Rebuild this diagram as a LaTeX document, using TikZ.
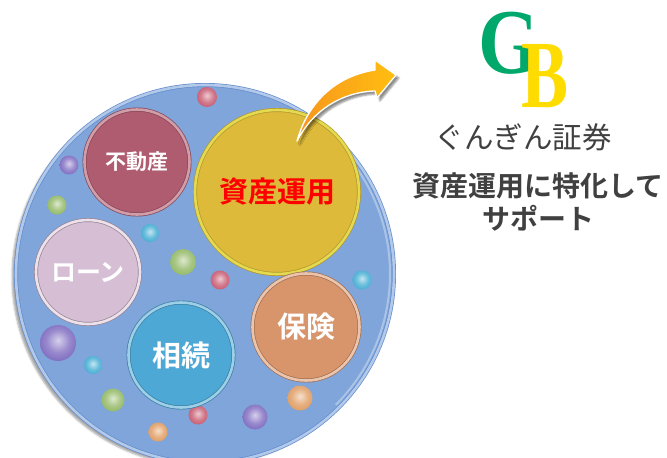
\documentclass[tikz,border=0pt]{standalone}
\usepackage{fontspec}
\newfontfamily\jp{Noto Sans CJK JP}[BoldFont={Noto Sans CJK JP Bold}]
\newfontfamily\logofont{Liberation Serif}
\usetikzlibrary{shadows.blur}

\definecolor{disc}{RGB}{127,165,218}
\definecolor{discrim}{RGB}{98,140,205}
\definecolor{rose}{RGB}{176,92,112}
\definecolor{gold}{RGB}{222,186,58}
\definecolor{goldrim}{RGB}{228,218,80}
\definecolor{mauve}{RGB}{214,190,212}
\definecolor{sky}{RGB}{78,168,214}
\definecolor{peach}{RGB}{216,148,106}
\definecolor{ballred}{RGB}{196,80,104}
\definecolor{ballpurple}{RGB}{118,98,188}
\definecolor{ballgreen}{RGB}{140,180,92}
\definecolor{ballcyan}{RGB}{56,168,208}
\definecolor{ballorange}{RGB}{222,150,88}
\definecolor{gbgreen}{RGB}{0,168,107}
\definecolor{gbyellow}{RGB}{255,220,0}
\definecolor{textgray}{RGB}{64,64,64}
\definecolor{arrowA}{RGB}{247,150,30}
\definecolor{arrowB}{RGB}{255,190,16}

% soft fill, slightly lighter towards the edge
\colorlet{bubA}{gray}\colorlet{bubB}{gray}
\pgfdeclareradialshading[bubA,bubB]{bubble}{\pgfpoint{0bp}{0bp}}{%
  color(0bp)=(bubA); color(36bp)=(bubA); color(50bp)=(bubB)}
% small glass sphere
\colorlet{ballA}{gray}
\pgfdeclareradialshading[ballA]{glassball}{\pgfpoint{0bp}{4bp}}{%
  color(0bp)=(ballA!30!white); color(16bp)=(ballA!75!white);
  color(32bp)=(ballA); color(44bp)=(ballA!60!black); color(50bp)=(ballA!50!disc)}

\tikzset{
  bubble/.style n args={3}{circle, inner sep=0pt,
    /utils/exec={\colorlet{bubA}{#1}\colorlet{bubB}{#1!80!#2}},
    shading=bubble, draw=#3, line width=0.7pt, double=#2, double distance=2.6pt},
  ball/.style={circle, inner sep=0pt,
    /utils/exec={\colorlet{ballA}{#1}}, shading=glassball},
  label jp/.style={font=\jp\bfseries\fontsize{#1}{#1}\selectfont, text=white},
}

\begin{document}
\begin{tikzpicture}[x=1pt,y=-1pt]
\useasboundingbox (0,0) rectangle (667,458);

% large disc
\node[bubble={disc}{disc!60!white}{discrim}, minimum size=378pt,
      blur shadow={shadow xshift=-4pt, shadow yshift=-3pt, shadow opacity=35}]
      (disc) at (205,274) {};
\draw[white, opacity=0.35, line width=2pt]
  (disc.center) ++(-55:185) arc[start angle=-55, end angle=45, radius=185];

% small spheres
\node[ball=ballred,    minimum size=20pt] (s1)  at (207,97)  {};
\node[ball=ballpurple, minimum size=19pt] (s2)  at (69,165)  {};
\node[ball=ballgreen,  minimum size=19pt] (s3)  at (57,205)  {};
\node[ball=ballcyan,   minimum size=18pt] (s4)  at (150,233) {};
\node[ball=ballgreen,  minimum size=26pt] (s5)  at (183,262) {};
\node[ball=ballred,    minimum size=19pt] (s6)  at (220,280) {};
\node[ball=ballcyan,   minimum size=19pt] (s7)  at (362,280) {};
\node[ball=ballpurple, minimum size=36pt] (s8)  at (58,343)  {};
\node[ball=ballcyan,   minimum size=18pt] (s9)  at (93,365)  {};
\node[ball=ballgreen,  minimum size=23pt] (s10) at (113,400) {};
\node[ball=ballred,    minimum size=19pt] (s11) at (198,415) {};
\node[ball=ballorange, minimum size=19pt] (s12) at (158,432) {};
\node[ball=ballpurple, minimum size=25pt] (s13) at (255,417) {};
\node[ball=ballorange, minimum size=25pt] (s14) at (300,398) {};

% topic bubbles
\node[bubble={rose}{rose!60!white}{rose!75!black}, minimum size=105pt,
      label jp=21] (estate) at (137,162) {不動産};
\node[bubble={gold}{goldrim}{gold!80!black}, minimum size=164pt,
      font=\jp\bfseries\fontsize{29}{29}\selectfont, text=red]
      (invest) at (277,192) {資産運用};
\node[bubble={mauve}{mauve!45!white}{mauve!70!black}, minimum size=104pt,
      label jp=25] (loan) at (88,272) {ローン};
\node[bubble={sky}{sky!55!white}{sky!75!black}, minimum size=105pt,
      label jp=29] (inherit) at (181,355) {相続};
\node[bubble={peach}{peach!55!white}{peach!75!black}, minimum size=107pt,
      label jp=29] (insure) at (306,327) {保険};

% curved arrow leaving the investment bubble
\fill[left color=arrowA, right color=arrowB, draw=white, line width=1.3pt,
      line join=round,
      blur shadow={shadow xshift=3pt, shadow yshift=-3pt, shadow opacity=45}]
  (297,141) .. controls (308,102) and (336,76) .. (375,70)
  -- (375,60) -- (396,75) -- (377,98) -- (375,91)
  .. controls (342,92) and (313,110) .. (297,141) -- cycle;

% logo: interlocking G and B
\node[font=\logofont\bfseries\fontsize{90}{90}\selectfont, inner sep=0pt,
      anchor=base west] (logo) at (478,73)
  {\color{gbgreen}\scalebox{0.88}[1.03]{G}\kern-18pt\raisebox{-34pt}{\color{gbyellow}\scalebox{0.82}[1.12]{\fontsize{86}{86}\selectfont B}}};

% company name and tagline
\node[font=\jp\fontsize{29.5}{29.5}\selectfont, text=textgray] (brand) at (523,137) {ぐんぎん証券};
\node[font=\jp\bfseries\fontsize{28}{33}\selectfont, text=textgray, align=center]
  (tagline) at (538,202) {資産運用に特化して\\サポート};
\end{tikzpicture}
\end{document}
